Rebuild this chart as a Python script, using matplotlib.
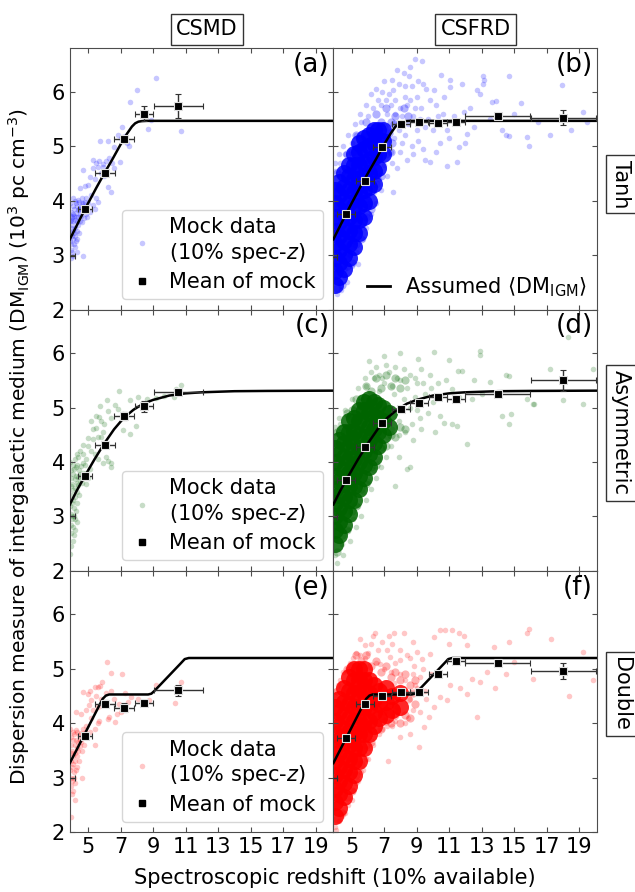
import numpy as np
import matplotlib
matplotlib.use("Agg")
import matplotlib.pyplot as plt
from matplotlib.lines import Line2D

# assumed <DM_IGM> curves, same in both columns
tanh_x = [3.88, 4.5, 5.0, 5.5, 6.0, 6.5, 7.0, 7.4, 7.7, 7.9, 8.1, 8.3, 8.6, 20.1]
tanh_y = [3.29, 3.66, 3.95, 4.23, 4.50, 4.76, 5.03, 5.23, 5.36, 5.42, 5.45, 5.46, 5.465, 5.465]
asym_x = [3.88, 4.3, 4.8, 5.4, 6.0, 6.6, 7.2, 7.8, 8.4, 9.0, 10.0, 11.0, 12.0, 14.0, 16.0, 20.1]
asym_y = [3.22, 3.47, 3.74, 4.05, 4.34, 4.60, 4.81, 4.96, 5.07, 5.14, 5.22, 5.26, 5.28, 5.30, 5.305, 5.31]
dbl_x = [3.88, 5.9, 6.1, 6.3, 8.7, 8.9, 9.1, 10.7, 10.95, 11.2, 20.1]
dbl_y = [3.27, 4.45, 4.51, 4.53, 4.53, 4.545, 4.60, 5.10, 5.18, 5.20, 5.20]

# mean of mock, CSMD column
csmd_mean_x = [3.55, 4.81, 6.03, 7.20, 8.44, 10.56]
csmd_mean_xerr = [0.62, 0.42, 0.62, 0.62, 0.58, 1.50]
a_mean_y = [2.98, 3.84, 4.51, 5.13, 5.60, 5.74]
a_mean_yerr = [0.05, 0.05, 0.06, 0.08, 0.13, 0.22]
c_mean_y = [3.00, 3.74, 4.32, 4.84, 5.02, 5.28]
c_mean_yerr = [0.04, 0.04, 0.06, 0.07, 0.10, 0.05]
e_mean_y = [3.00, 3.77, 4.36, 4.29, 4.38, 4.61]
e_mean_yerr = [0.04, 0.04, 0.06, 0.08, 0.05, 0.10]

# mean of mock, CSFRD column
csfrd_mean_x = [3.55, 4.67, 5.80, 6.87, 8.02, 9.15, 10.33, 11.42, 13.99, 18.04]
csfrd_mean_xerr = [0.53, 0.55, 0.55, 0.55, 0.55, 0.55, 0.55, 0.55, 2.0, 2.0]
b_mean_y = [2.97, 3.75, 4.36, 4.99, 5.40, 5.44, 5.43, 5.44, 5.55, 5.52]
b_mean_yerr = [0.02, 0.02, 0.02, 0.03, 0.03, 0.03, 0.04, 0.04, 0.05, 0.14]
d_mean_y = [2.99, 3.66, 4.27, 4.72, 4.97, 5.08, 5.19, 5.15, 5.24, 5.50]
d_mean_yerr = [0.02, 0.02, 0.02, 0.03, 0.03, 0.03, 0.04, 0.04, 0.05, 0.19]
f_mean_y = [3.00, 3.73, 4.35, 4.51, 4.58, 4.58, 4.90, 5.14, 5.10, 4.96]
f_mean_yerr = [0.02, 0.02, 0.02, 0.03, 0.03, 0.03, 0.04, 0.04, 0.05, 0.15]

# mock data (estimated positions)
a_pts = [(9.21,6.25),(8.02,6.03),(7.60,5.82),(8.70,5.31),(10.71,5.27),(10.50,5.70),(8.40,5.55),(8.90,5.48),
         (7.11,5.36),(6.85,5.20),(7.00,5.15),(7.30,5.18),(7.40,5.05),(6.60,4.98),(6.23,5.09),(5.71,5.10),(6.95,4.71),(7.50,5.00),
         (5.30,4.75),(5.50,4.70),(5.70,4.72),(5.90,4.68),(6.10,4.73),(6.30,4.78),(6.50,4.70),(5.90,4.62),(5.60,4.62),(5.30,4.60),
         (4.68,4.57),(5.09,4.44),(5.40,4.40),(6.23,4.25),(6.43,4.16),(6.00,4.45),(5.80,4.50),(6.10,4.55),(6.60,4.60),
         (4.50,4.23),(4.80,4.26),(5.00,4.28),(5.20,4.10),(5.50,4.05),(5.60,3.98),(5.30,3.92),(5.00,3.95),(4.90,4.05),(4.70,3.90),
         (4.60,3.95),(5.40,3.85),(5.10,3.80),(4.85,3.75),(4.95,3.70),
         (3.92,3.95),(3.95,3.80),(3.98,3.65),(3.93,3.50),(3.96,3.40),(3.92,3.25),(3.95,3.10),(3.97,2.95),(4.05,3.90),(4.08,3.75),
         (4.02,3.55),(4.10,3.45),(4.05,3.30),(4.12,3.20),(4.03,3.05),(4.15,3.85),(4.18,3.65),(4.20,3.50),(4.22,3.35),(4.25,3.95),
         (4.28,3.78),(4.30,3.60),(4.32,3.45),(4.35,3.90),(4.38,3.70),(4.40,3.55),(4.42,3.85),(4.45,3.98),(4.48,3.75),(4.50,3.62),
         (4.55,3.88),(4.58,3.72),(4.62,3.60),(4.66,3.95),(4.70,3.82),(4.75,3.68),(4.80,3.98),(4.00,3.70),(4.10,3.62),(4.15,3.40),
         (4.20,3.15),(4.25,3.25),(3.98,3.20),(4.00,3.35),(4.08,2.98),(4.30,3.05),(4.68,2.99),(4.45,3.40),(4.35,3.30),(3.90,3.62),
         (3.94,3.72),(4.12,3.72),(4.26,3.70),(4.36,3.82),(4.52,3.85),(4.60,4.05),(4.40,4.02),(4.20,4.00),(4.05,4.05)]

c_pts = [(6.90,5.31),(6.18,5.13),(5.75,5.02),(5.50,4.85),(5.70,4.82),(5.80,4.76),(5.16,4.76),(6.23,4.94),(6.64,5.04),
         (6.84,4.98),(7.15,4.88),(7.56,5.14),(8.08,5.20),(8.63,5.16),(7.97,4.67),(7.56,4.52),(7.15,4.59),(10.75,5.42),
         (10.40,5.34),(10.30,5.20),(9.20,5.18),(9.70,5.22),(5.00,4.44),(5.30,4.42),(5.60,4.45),(4.68,4.31),(5.00,4.30),
         (5.81,4.45),(6.10,4.10),(6.23,4.01),(6.40,3.98),(5.95,3.98),(6.43,3.90),(5.30,4.60),(5.50,4.62),(6.00,4.70),
         (6.40,4.80),(5.90,4.55),(5.20,4.20),(5.40,4.15),(5.60,4.05),(4.90,4.05),(4.70,4.15),(4.50,4.20),(4.40,4.10),
         (4.30,4.15),(4.20,4.05),
         (3.92,4.00),(3.95,3.85),(3.98,3.70),(3.93,3.55),(3.96,3.40),(3.92,3.20),(3.95,3.05),(3.97,2.85),(3.94,2.70),
         (4.05,3.95),(4.08,3.78),(4.02,3.60),(4.10,3.48),(4.05,3.30),(4.12,3.15),(4.03,2.95),(4.15,3.88),(4.18,3.68),
         (4.20,3.52),(4.22,3.35),(4.25,3.90),(4.28,3.75),(4.30,3.62),(4.32,3.45),(4.35,3.95),(4.38,3.72),(4.40,3.58),
         (4.42,3.85),(4.48,3.78),(4.50,3.65),(4.55,3.92),(4.58,3.75),(4.62,3.62),(4.66,3.98),(4.70,3.80),(4.75,3.70),
         (4.80,3.95),(4.85,3.60),(4.90,3.80),(5.00,3.70),(5.10,3.88),(4.10,2.80),(4.15,2.65),(4.05,2.55),(3.95,2.45),
         (4.20,2.95),(4.25,3.10),(4.35,3.25),(4.45,3.40),(4.00,3.00),(3.90,2.31),(4.22,2.75),(4.30,2.90),(4.12,3.00),(4.02,3.25)]

e_pts = [(6.18,5.13),(6.43,4.92),(7.09,4.90),(5.88,4.76),(5.60,4.67),(5.40,4.66),(5.75,4.68),(4.68,4.57),(5.00,4.53),
         (6.43,4.60),(9.21,4.70),(10.75,4.76),(10.34,4.37),(8.76,4.42),(6.80,4.18),(6.30,4.12),(6.20,4.08),(6.64,4.02),
         (5.60,4.00),(5.70,4.05),(5.20,4.42),(5.05,4.33),(5.30,4.24),(4.27,4.20),(4.58,4.18),(5.92,4.39),(7.46,4.39),
         (7.67,4.48),(7.05,4.20),(4.89,3.95),(5.10,3.85),(5.40,3.90),(5.40,3.61),(3.96,2.28),(4.17,2.59),(5.50,4.50),
         (5.80,4.45),(6.10,4.55),(6.60,4.45),(7.30,4.55),(8.10,4.45),(5.20,4.10),(4.90,4.25),(6.90,4.35),(5.10,4.60),(5.60,4.30),
         (3.92,3.90),(3.95,3.75),(3.98,3.60),(3.93,3.45),(3.96,3.30),(3.92,3.15),(3.95,3.00),(3.97,2.85),(4.05,3.85),
         (4.08,3.70),(4.02,3.50),(4.10,3.40),(4.05,3.25),(4.12,3.10),(4.03,2.95),(4.15,3.80),(4.18,3.60),(4.20,3.45),
         (4.22,3.30),(4.25,3.88),(4.28,3.70),(4.30,3.55),(4.32,3.40),(4.35,3.85),(4.38,3.65),(4.40,3.50),(4.42,3.78),
         (4.48,3.70),(4.50,3.58),(4.55,3.82),(4.58,3.66),(4.62,3.50),(4.66,3.90),(4.70,3.75),(4.75,3.60),(4.80,3.85),
         (4.10,2.75),(4.20,2.90),(4.00,2.70),(4.25,3.15),(4.45,3.30),(4.35,3.20),(4.60,3.00),(4.15,3.00),(4.02,3.20)]

b_pts = [(8.92,6.60),(9.33,6.57),(8.51,6.28),(7.58,6.03),(7.48,6.21),(8.20,6.35),(7.90,6.15),(8.70,6.10),(9.10,6.20),
         (9.60,6.05),(10.05,6.03),(11.08,6.21),(11.08,6.09),(10.67,5.91),(11.80,6.15),(12.73,6.03),(13.10,6.29),(13.10,6.15),
         (13.65,5.82),(14.68,6.29),(15.40,5.79),(15.81,5.17),(15.92,5.00),(14.27,5.29),(14.48,5.20),(12.52,5.36),(12.11,5.23),
         (11.60,4.99),(10.88,4.63),(11.49,4.71),(10.46,5.05),(9.85,4.71),(9.54,4.74),(7.58,4.16),(5.42,2.84),(4.60,2.60),
         (4.09,2.29),(17.21,5.20),(17.97,6.12),(19.27,5.63),(14.68,5.18),(13.86,5.83),(13.14,6.22),(12.90,5.95),(12.30,5.70),
         (11.30,5.55),(11.90,5.62),(10.20,5.75),(10.60,5.60),(9.30,5.70),(9.00,5.90),(9.80,5.85),(8.40,5.75),(8.80,5.55),
         (9.50,5.35),(10.00,5.30),(10.90,5.30),(8.30,5.20),(8.70,5.00),(9.10,5.10),(9.40,4.95),(10.20,4.90),(8.00,4.90),
         (8.40,4.75),(7.80,4.60),(7.20,4.45),(7.50,4.70),(8.10,5.55),(7.70,5.85),(7.30,5.95),(6.90,6.00),(6.60,5.85),
         (6.30,5.70),(6.00,5.55),(5.60,5.45),(5.30,5.20),(5.00,5.05),(4.60,4.85),(4.30,4.70),(4.00,4.55),(6.80,4.20),
         (6.50,3.95),(6.20,3.75),(5.90,3.50),(5.70,3.30),(5.30,3.05),(5.00,2.80),(4.70,2.50),(4.35,2.35),(16.50,5.45),
         (18.50,5.30),(19.50,5.45),(13.50,5.50),(15.00,5.60),(12.00,5.05),(11.00,5.15),(8.60,6.45),
         (6.80,5.75),(7.10,5.85),(7.40,5.75),(7.70,5.60),(8.00,5.70),(8.30,5.90),(8.60,5.85),(8.90,5.70),(9.20,5.50),
         (7.20,5.60),(7.90,5.30),(8.50,5.40),(9.00,5.30),(9.70,5.50),(10.30,5.55),(7.60,5.15),(8.10,5.05),(8.80,4.85),
         (7.40,4.90),(7.00,4.65),(6.70,4.40),(6.40,4.15),(6.10,3.95),(5.80,3.70),(5.50,3.45),(5.20,3.25),(4.90,3.00),
         (4.60,2.75),(4.30,2.50),(5.90,5.75),(6.20,5.95),(6.50,6.05),(5.50,5.60),(5.20,5.40),(4.80,5.20),(4.50,5.00),
         (4.20,4.85),(3.95,4.70),(7.00,6.20),(7.80,6.40),(8.30,6.10),(9.40,6.15),(10.50,6.30)]
b_mid = [(4.10,4.50),(4.40,4.55),(4.70,4.85),(5.00,4.90),(5.30,5.20),(5.60,5.15),(5.90,5.45),(6.20,5.35),(6.50,5.60),
         (6.80,5.45),(7.10,5.70),(7.40,5.45),(7.70,5.55),(7.30,5.25),(7.60,5.40),(7.00,5.35),(6.90,5.05),(7.20,5.15),
         (7.50,5.05),(7.90,5.40),(8.20,5.70),(8.50,5.55),(4.10,2.40),(4.40,2.45),(4.70,2.80),(5.00,2.85),(5.30,3.20),
         (5.60,3.30),(5.90,3.70),(6.20,3.85),(6.50,4.30),(6.80,4.45),(7.10,4.85),(7.40,4.90)]
b_core = [(3.95,2.45),(3.95,2.70),(3.95,2.95),(3.95,3.20),(3.95,3.45),(3.95,3.70),(3.95,3.95),(3.95,4.20),
          (4.25,2.60),(4.25,2.85),(4.25,3.10),(4.25,3.35),(4.25,3.60),(4.25,3.85),(4.25,4.10),(4.25,4.35),
          (4.55,2.75),(4.55,3.00),(4.55,3.25),(4.55,3.50),(4.55,3.75),(4.55,4.00),(4.55,4.25),(4.55,4.50),
          (4.85,2.95),(4.85,3.20),(4.85,3.45),(4.85,3.70),(4.85,3.95),(4.85,4.20),(4.85,4.45),(4.85,4.65),
          (5.15,3.15),(5.15,3.40),(5.15,3.65),(5.15,3.90),(5.15,4.15),(5.15,4.40),(5.15,4.65),(5.15,4.85),
          (5.45,3.40),(5.45,3.65),(5.45,3.90),(5.45,4.15),(5.45,4.40),(5.45,4.65),(5.45,4.90),(5.45,5.05),
          (5.75,3.70),(5.75,3.95),(5.75,4.20),(5.75,4.45),(5.75,4.70),(5.75,4.95),(5.75,5.15),
          (6.05,4.00),(6.05,4.25),(6.05,4.50),(6.05,4.75),(6.05,5.00),(6.05,5.20),
          (6.35,4.30),(6.35,4.55),(6.35,4.80),(6.35,5.05),(6.35,5.30),
          (6.65,4.60),(6.65,4.85),(6.65,5.10),(6.65,5.30),
          (6.95,4.85),(6.95,5.10),(6.95,5.30)]

d_pts = [(10.05,6.02),(12.89,6.04),(12.93,5.96),(10.98,5.88),(6.10,5.85),(7.13,5.79),(11.18,5.34),(11.53,5.68),
         (11.80,5.68),(12.52,5.50),(13.55,5.47),(14.48,5.59),(14.68,5.58),(15.81,5.16),(16.23,5.07),(14.27,4.85),
         (14.79,4.88),(14.68,4.70),(12.11,4.33),(11.49,4.67),(11.18,4.70),(10.67,4.71),(10.16,4.55),(10.46,4.85),
         (8.61,3.90),(8.41,3.88),(7.65,3.56),(7.89,4.09),(17.21,5.71),(19.89,5.71),(17.99,5.14),(19.27,5.06),
         (16.18,5.06),(18.34,6.29),(9.30,5.70),(9.80,5.60),(10.30,5.45),(10.80,5.50),(9.00,5.45),(8.60,5.60),
         (8.20,5.70),(7.80,5.55),(7.50,5.40),(8.90,5.20),(9.50,5.25),(10.00,5.10),(9.70,4.90),(9.20,4.80),
         (8.70,4.70),(8.30,4.55),(8.80,4.40),(9.30,4.60),(7.90,4.50),(7.40,4.30),(7.10,4.10),(6.80,3.90),
         (6.50,3.70),(6.20,3.50),(5.90,3.30),(5.60,3.00),(5.30,2.80),(4.90,2.55),(4.50,2.30),(4.10,2.15),
         (6.70,5.60),(6.40,5.55),(5.90,5.40),(5.50,5.20),(5.10,5.00),(4.70,4.85),(4.30,4.70),(4.00,4.55),
         (7.00,5.45),(6.70,5.30),(11.60,5.20),(12.40,5.15),(13.00,5.25),
         (6.90,5.55),(7.30,5.65),(7.70,5.75),(8.00,5.50),(8.40,5.35),(8.90,5.55),(9.40,5.45),(9.90,5.35),
         (7.60,5.25),(8.20,5.15),(8.60,5.00),(9.00,4.95),(7.90,4.75),(7.50,4.60),(7.20,4.45),(6.90,4.25),
         (6.60,4.05),(6.30,3.85),(6.00,3.65),(5.70,3.45),(5.40,3.20),(5.10,2.95),(4.80,2.75),(4.40,2.50),
         (4.00,2.30),(6.20,5.65),(5.80,5.55),(5.40,5.35),(5.00,5.15),(4.60,4.95),(4.20,4.80),(3.95,4.65),
         (6.50,5.75),(7.00,5.95),(8.00,6.00),(9.10,5.90)]
d_mid = [(4.10,4.55),(4.40,4.60),(4.70,4.90),(5.00,4.95),(5.30,5.15),(5.60,5.10),(5.90,5.40),(6.20,5.30),(6.50,5.55),
         (6.80,5.35),(7.10,5.60),(7.40,5.40),(7.70,5.55),(8.00,5.35),(8.30,5.50),(4.10,2.35),(4.40,2.65),(4.70,2.75),
         (5.00,3.10),(5.30,3.20),(5.60,3.50),(5.90,3.60),(6.20,3.90),(6.50,3.95),(6.80,4.25),(7.10,4.30),(7.40,4.50),
         (7.70,4.45),(8.00,4.65),(8.30,4.60)]
d_core = [(3.95,2.50),(3.95,2.75),(3.95,3.00),(3.95,3.25),(3.95,3.50),(3.95,3.75),(3.95,4.00),(3.95,4.25),
          (4.25,2.65),(4.25,2.90),(4.25,3.15),(4.25,3.40),(4.25,3.65),(4.25,3.90),(4.25,4.15),(4.25,4.40),
          (4.55,2.85),(4.55,3.10),(4.55,3.35),(4.55,3.60),(4.55,3.85),(4.55,4.10),(4.55,4.35),(4.55,4.55),
          (4.85,3.05),(4.85,3.30),(4.85,3.55),(4.85,3.80),(4.85,4.05),(4.85,4.30),(4.85,4.55),(4.85,4.75),
          (5.15,3.30),(5.15,3.55),(5.15,3.80),(5.15,4.05),(5.15,4.30),(5.15,4.55),(5.15,4.80),
          (5.45,3.50),(5.45,3.75),(5.45,4.00),(5.45,4.25),(5.45,4.50),(5.45,4.75),(5.45,4.95),
          (5.75,3.70),(5.75,3.95),(5.75,4.20),(5.75,4.45),(5.75,4.70),(5.75,4.95),(5.75,5.10),
          (6.05,3.90),(6.05,4.15),(6.05,4.40),(6.05,4.65),(6.05,4.90),(6.05,5.15),
          (6.35,4.10),(6.35,4.35),(6.35,4.60),(6.35,4.85),(6.35,5.10),
          (6.65,4.30),(6.65,4.55),(6.65,4.80),(6.65,5.05),
          (6.95,4.50),(6.95,4.75),(6.95,5.00),
          (7.30,4.65),(7.30,4.90)]

f_pts = [(15.92,5.74),(15.81,5.65),(17.25,5.55),(19.27,5.31),(19.89,4.79),(18.39,4.50),(16.18,4.82),(14.68,5.49),
         (14.99,5.13),(14.48,4.91),(13.76,5.41),(13.80,4.65),(12.73,4.12),(12.93,4.76),(13.35,4.94),(12.42,4.82),
         (12.11,5.43),(11.90,5.61),(11.60,5.65),(11.18,5.71),(10.77,5.71),(10.46,5.71),(10.05,5.58),(10.98,5.46),
         (11.70,4.64),(12.11,4.54),(11.08,4.70),(10.88,4.43),(10.46,4.48),(9.13,3.57),(7.23,3.30),(10.05,4.30),
         (9.74,4.12),(9.44,3.93),(8.61,3.81),(7.99,3.75),(6.45,5.65),(7.28,5.60),(8.20,5.66),(5.53,5.55),
         (5.83,5.43),(9.02,5.31),(9.33,5.19),(9.85,5.28),(8.82,5.06),(7.99,5.16),(7.38,5.22),(6.76,5.09),
         (6.20,4.60),(6.50,4.35),(6.80,4.70),(7.00,4.20),(7.30,4.50),(7.60,4.75),(7.80,4.30),(8.10,4.55),
         (8.30,4.00),(8.60,4.45),(8.80,4.25),(9.00,4.65),(9.20,4.85),(6.90,3.90),(7.50,3.95),(8.00,4.90),
         (8.80,4.90),(9.50,4.60),(6.40,3.75),(6.10,3.55),(5.90,3.35),(5.60,3.10),(5.30,2.90),(5.00,2.60),
         (4.60,2.35),(4.20,2.20),(3.95,2.10),(6.00,5.30),(5.50,5.25),(5.10,5.20),(4.70,5.00),(4.30,4.80),
         (4.00,4.60),(6.60,5.35),(7.20,5.35),(7.70,5.10),(8.40,5.25),
         (6.20,5.45),(6.90,5.50),(7.50,5.45),(8.00,5.35),(8.60,5.20),(9.40,5.00),(9.90,4.90),(6.50,5.10),
         (7.00,5.00),(7.40,4.95),(8.30,4.80),(8.90,4.70),(9.60,4.45),(9.20,4.20),(8.50,4.10),(7.70,4.05),
         (7.20,3.95),(6.70,3.80),(6.30,3.60),(6.00,3.35),(5.70,3.15),(5.40,2.95),(5.10,2.75),(4.80,2.50),
         (4.40,2.30),(4.05,2.05),(5.80,5.20),(5.30,5.30),(4.90,5.10),(4.50,4.95),(4.15,4.70),(3.95,4.50),
         (6.30,5.60),(7.60,5.65),(8.80,5.50)]
f_mid = [(4.10,4.60),(4.40,4.70),(4.70,5.00),(5.00,5.05),(5.30,5.25),(5.60,5.15),(5.90,5.25),(6.20,5.05),(6.50,5.15),
         (6.80,4.95),(7.10,5.05),(7.40,4.85),(7.70,4.95),(8.00,4.80),(8.30,4.90),(8.60,4.70),(8.90,4.80),(4.10,2.25),
         (4.40,2.35),(4.70,2.65),(5.00,2.75),(5.30,3.05),(5.60,3.25),(5.90,3.60),(6.20,3.65),(6.50,3.90),(6.80,3.90),
         (7.10,4.05),(7.40,4.00),(7.70,4.15),(8.00,4.00),(8.30,4.15),(8.60,4.10),(8.90,4.35),(8.50,4.45),(8.80,4.55)]
f_core = [(3.95,2.30),(3.95,2.55),(3.95,2.80),(3.95,3.05),(3.95,3.30),(3.95,3.55),(3.95,3.80),(3.95,4.05),(3.95,4.30),
          (4.25,2.45),(4.25,2.70),(4.25,2.95),(4.25,3.20),(4.25,3.45),(4.25,3.70),(4.25,3.95),(4.25,4.20),(4.25,4.45),
          (4.55,2.65),(4.55,2.90),(4.55,3.15),(4.55,3.40),(4.55,3.65),(4.55,3.90),(4.55,4.15),(4.55,4.40),(4.55,4.65),
          (4.85,2.85),(4.85,3.10),(4.85,3.35),(4.85,3.60),(4.85,3.85),(4.85,4.10),(4.85,4.35),(4.85,4.60),(4.85,4.85),
          (5.15,3.05),(5.15,3.30),(5.15,3.55),(5.15,3.80),(5.15,4.05),(5.15,4.30),(5.15,4.55),(5.15,4.80),(5.15,5.00),
          (5.45,3.30),(5.45,3.55),(5.45,3.80),(5.45,4.05),(5.45,4.30),(5.45,4.55),(5.45,4.80),(5.45,5.00),
          (5.75,3.55),(5.75,3.80),(5.75,4.05),(5.75,4.30),(5.75,4.55),(5.75,4.80),(5.75,5.00),
          (6.05,3.80),(6.05,4.05),(6.05,4.30),(6.05,4.55),(6.05,4.80),
          (6.35,3.95),(6.35,4.20),(6.35,4.45),(6.35,4.70),
          (6.70,4.10),(6.70,4.35),(6.70,4.60),
          (7.10,4.15),(7.10,4.40),(7.10,4.65),
          (7.50,4.25),(7.50,4.50),
          (8.00,4.30),(8.00,4.55)]

col_titles = ["CSMD", "CSFRD"]
row_titles = ["Tanh", "Asymmetric", "Double"]
panel_tags = ["(a)", "(b)", "(c)", "(d)", "(e)", "(f)"]
colors = ["blue", "darkgreen", "red"]
xticks = [5, 7, 9, 11, 13, 15, 17, 19]
yticks = [2, 3, 4, 5, 6]

curves = [(tanh_x, tanh_y), (asym_x, asym_y), (dbl_x, dbl_y)]
left = [(a_pts, a_mean_y, a_mean_yerr), (c_pts, c_mean_y, c_mean_yerr), (e_pts, e_mean_y, e_mean_yerr)]
right = [(b_pts, b_mid, b_core, b_mean_y, b_mean_yerr), (d_pts, d_mid, d_core, d_mean_y, d_mean_yerr),
         (f_pts, f_mid, f_core, f_mean_y, f_mean_yerr)]

fig, axes = plt.subplots(3, 2, figsize=(6.35, 8.92), dpi=100, sharex=True, sharey=True)
fig.subplots_adjust(left=0.110, right=0.940, top=0.946, bottom=0.067, wspace=0, hspace=0)

for r in range(3):
    col = colors[r]
    cx, cy = curves[r]
    # CSMD
    ax = axes[r, 0]
    pts = np.array(left[r][0])
    sc = ax.scatter(pts[:, 0], pts[:, 1], s=16, color=col, alpha=0.22, lw=0, zorder=1)
    ax.plot(cx, cy, color="k", lw=1.8, zorder=3)
    ax.errorbar(csmd_mean_x, left[r][1], xerr=csmd_mean_xerr, yerr=left[r][2], fmt="s", ms=5.5,
                mfc="k", mec="0.88", mew=0.8, ecolor="0.2", elinewidth=1, capsize=2.5, zorder=5)
    sq = Line2D([], [], marker="s", ls="", color="k", ms=5)
    ax.legend([sc, sq], ["Mock data\n(10% spec-$z$)", "Mean of mock"], loc="lower right",
              fontsize=15, handlelength=1.2, handletextpad=0.7, borderpad=0.35, labelspacing=0.35,
              framealpha=0.8, edgecolor="0.8")
    # CSFRD: dense core with wide markers, then a softer edge layer, then the sparse halo
    ax = axes[r, 1]
    pts = np.array(right[r][0])
    mid = np.array(right[r][1])
    core = np.array(right[r][2])
    ax.scatter(core[:, 0], core[:, 1], s=150, color=col, alpha=0.85, lw=0, zorder=1)
    ax.scatter(mid[:, 0], mid[:, 1], s=35, color=col, alpha=0.3, lw=0, zorder=1)
    ax.scatter(pts[:, 0], pts[:, 1], s=16, color=col, alpha=0.22, lw=0, zorder=1)
    ax.plot(cx, cy, color="k", lw=1.8, zorder=3)
    ax.errorbar(csfrd_mean_x, right[r][3], xerr=csfrd_mean_xerr, yerr=right[r][4], fmt="s", ms=5.5,
                mfc="k", mec="0.88", mew=0.8, ecolor="0.2", elinewidth=1, capsize=2.5, zorder=5)
    if r == 0:
        ax.legend([Line2D([], [], color="k", lw=2)], [r"Assumed $\langle$DM$_{\rm IGM}\rangle$"],
                  loc="lower right", fontsize=15, frameon=False, handlelength=1.1, handletextpad=0.7,
                  borderaxespad=0.1)

for i, ax in enumerate(axes.flat):
    ax.set_xlim(3.88, 20.1)
    ax.set_ylim(2, 6.8)
    ax.set_xticks(xticks)
    ax.set_yticks(yticks)
    ax.tick_params(direction="in", top=True, right=True, labelsize=15, length=3.5, color="0.3")
    for s in ax.spines.values():
        s.set_color("0.3")
    ax.text(0.985, 0.985, panel_tags[i], transform=ax.transAxes, ha="right", va="top", fontsize=19)

box = dict(boxstyle="square,pad=0.25", fc="white", ec="0.2", lw=1)
fig.text(0.326, 0.967, col_titles[0], ha="center", va="center", fontsize=15, bbox=box)
fig.text(0.749, 0.967, col_titles[1], ha="center", va="center", fontsize=15, bbox=box)
for r, yc in enumerate([1 - 184 / 892, 1 - 433 / 892, 1 - 694 / 892]):
    fig.text(0.978, yc, row_titles[r], ha="center", va="center", rotation=270, fontsize=15, bbox=box)

fig.text(0.03, 0.5, r"Dispersion measure of intergalactic medium (DM$_{\rm IGM}$) ($10^3$ pc cm$^{-3}$)",
         rotation=90, ha="center", va="center", fontsize=14.5)
fig.text(0.527, 0.004, "Spectroscopic redshift (10% available)", ha="center", va="bottom", fontsize=15)

fig.savefig("out.png", dpi=100)
